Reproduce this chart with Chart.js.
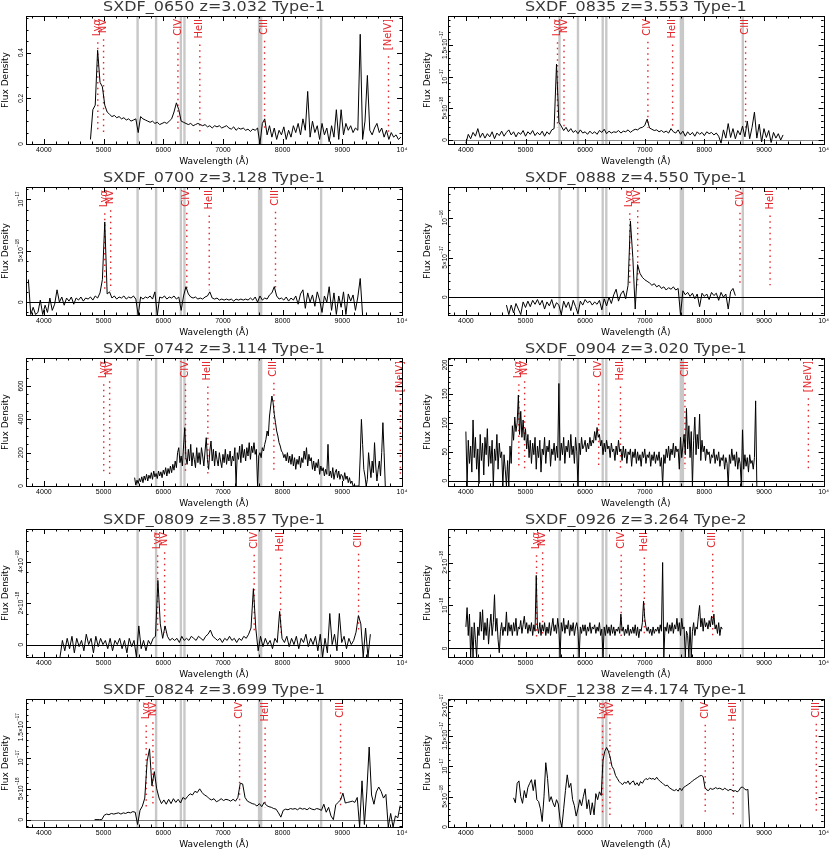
<!DOCTYPE html>
<html>
<head>
<meta charset="utf-8">
<title>SXDF spectra</title>
<script src="https://cdn.jsdelivr.net/npm/chart.js@4.4.1/dist/chart.umd.min.js"></script>
<style>
    body { margin: 0; background: #fff; width: 831px; height: 849px; position: relative; overflow: hidden; }
    canvas { position: absolute; }
</style>
</head>
<body>
<script>
// 1. Panel metadata (reading order: left to right, top to bottom)
const names = ['SXDF_0650', 'SXDF_0835', 'SXDF_0700', 'SXDF_0888', 'SXDF_0742', 'SXDF_0904', 'SXDF_0809', 'SXDF_0926', 'SXDF_0824', 'SXDF_1238'];
const redshifts = [3.032, 3.553, 3.128, 4.550, 3.114, 3.020, 3.857, 3.264, 3.699, 4.174];
const types = ['Type-1', 'Type-1', 'Type-1', 'Type-1', 'Type-1', 'Type-1', 'Type-1', 'Type-2', 'Type-1', 'Type-1'];
const waveStart = [4780, 4000, 3740, 4680, 5520, 4000, 4270, 4000, 4850, 4800];
const waveStep = [40, 40, 40, 40, 20, 20, 40, 20, 40, 30];
const yMins = [0, -0.63, -1.25, -2.25, 0, -9, -0.6, -0.2, -1.2, 0];
const yMaxs = [0.56, 19.6, 11.2, 13.9, 768, 212, 5.58, 2.78, 19.6, 21.1];
const yMinorSteps = [0.05, 1, 1, 1, 50, 10, 0.5, 0.2, 1, 1];
const zeroColors = [null, '#888', '#000', '#000', null, '#000', '#000', '#000', '#777', null];

// 2. Tick labels
const xTickValues = [4000, 5000, 6000, 7000, 8000, 9000, 10000];
const xTickLabels = ['4000', '5000', '6000', '7000', '8000', '9000', '10⁴'];
const yTickValues = [
    [0, 0.2, 0.4],
    [0, 5, 10, 15],
    [0, 5, 10],
    [0, 5, 10],
    [0, 200, 400, 600],
    [0, 50, 100, 150, 200],
    [0, 2, 4],
    [0, 1, 2],
    [0, 5, 10, 15],
    [0, 5, 10, 15, 20]
];
const yTickLabels = [
    ['0', '0.2', '0.4'],
    ['0', '5×10^−18', '10^−17', '1.5×10^−17'],
    ['0', '5×10^−18', '10^−17'],
    ['0', '5×10^−17', '10^−16'],
    ['0', '200', '400', '600'],
    ['0', '50', '100', '150', '200'],
    ['0', '2×10^−18', '4×10^−18'],
    ['0', '10^−18', '2×10^−18'],
    ['0', '5×10^−18', '10^−17', '1.5×10^−17'],
    ['0', '5×10^−18', '10^−17', '1.5×10^−17', '2×10^−17']
];

// 3. Emission lines (rest frame) and sky bands (observed)
const lineNames = ['Lyα', 'NV', 'CIV', 'HeII', 'CIII', '[NeIV]'];
const lineRest = [1216, 1240, 1549, 1640, 1909, 2424];
const skyBandLo = [5550, 5860, 6275, 6335, 7585, 8625];
const skyBandHi = [5590, 5900, 6315, 6375, 7660, 8665];

// 4. Spectra (flux per wavelength bin)
const flux0650 = [0.02, 0.15, 0.17, 0.41, 0.27, 0.25, 0.17, 0.14, 0.13, 0.12, 0.125, 0.115, 0.12, 0.11, 0.115, 0.105, 0.11, 0.10, 0.105, 0.11,
    0.05, 0.12, 0.11, 0.105, 0.10, 0.095, 0.10, 0.09, 0.095, 0.085, 0.09, 0.095, 0.09, 0.10, 0.11, 0.14, 0.18, 0.15, 0.10, 0.095,
    0.09, 0.085, 0.09, 0.08, 0.085, 0.09, 0.085, 0.08, 0.085, 0.075, 0.08, 0.07, 0.08, 0.075, 0.08, 0.07, 0.075, 0.08, 0.07, 0.065,
    0.075, 0.06, 0.07, 0.065, 0.07, 0.06, 0.065, 0.055, 0.065, 0.06, 0.07, 0.0, 0.09, 0.11, 0.04, 0.08, 0.03, 0.07, 0.02, 0.06,
    0.04, 0.075, 0.02, 0.06, 0.03, 0.08, 0.05, 0.09, 0.04, 0.11, 0.06, 0.23, 0.03, 0.10, 0.05, 0.08, 0.02, 0.09, 0.04, 0.07,
    0.01, 0.08, 0.03, 0.15, 0.02, 0.15, 0.04, 0.09, 0.06, 0.08, 0.05, 0.07, 0.06, 0.48, 0.02, 0.10, 0.30, 0.06, 0.04, 0.07,
    0.09, 0.05, 0.07, 0.03, 0.06, 0.02, 0.05, 0.03, 0.04, 0.02, 0.03];
const flux0835 = [-0.5, 0.9, 0.2, 1.2, 0.6, 1.8, 0.4, 1.1, 0.3, 1.0, 0.5, 1.3, 0.2, 1.1, 0.7, 1.4, 0.6, 1.2, 1.6, 0.8,
    1.3, 0.5, 1.2, 0.9, 1.5, 0.6, 1.3, 0.9, 1.5, 0.7, 1.2, 0.8, 1.4, 0.6, 1.3, 0.9, 1.6, 1.8, 12, 2.8,
    2.2, 1.5, 2.0, 1.3, 1.8, 1.2, 1.5, 1.0, 1.6, 1.1, 1.3, 0.9, 1.4, 1.0, 1.3, 0.9, 1.5, 1.2, 1.7, 1.0,
    1.4, 1.1, 1.3, 1.2, 1.5, 1.1, 1.4, 1.3, 1.6, 1.2, 1.5, 1.7, 1.6, 1.9, 2.0, 2.3, 3.3, 1.9, 1.7, 1.5,
    1.6, 1.3, 1.5, 1.2, 1.4, 1.1, 1.8, 1.3, 1.1, 1.6, 0.9, 1.4, 0.6, 1.3, 0.8, 1.2, 0.6, 1.3, 0.9, 1.2,
    0.7, 1.3, 1.0, 1.2, 0.8, 1.1, 0.6, -0.5, 1.6, 0.3, 2.6, 0.4, 1.8, 0.2, 1.5, 0.8, 2.2, 0.5, 3.0, 0.2,
    2.0, 4.4, 0.3, 2.5, -0.3, 1.8, 0.4, 1.5, -0.4, 1.2, 0.3, 1.0, 0.0, 0.8];
const flux0700 = [2.2, -1.2, -0.5, -1.2, -1.0, 0.2, -1.2, -0.3, -1.0, 0.4, -0.8, -0.2, 1.2, 0.0, 0.5, -0.3, 0.4, 0.1, 0.5, -0.2,
    0.4, 0.2, 0.5, 0.1, 0.4, 0.3, 0.5, 0.2, 0.6, 0.4, 0.9, 2.2, 7.8, 0.8, 1.0, 0.4, 0.6, 0.3, 0.5, 0.4,
    0.6, 0.3, 0.5, 0.4, 0.6, 0.3, -1.3, 0.5, 0.3, 0.5, 0.4, 0.6, 0.3, 1.0, -1.3, 0.5, 0.4, 0.6, 0.3, 0.5,
    0.4, 0.6, 0.3, 0.5, -0.8, 0.6, 1.5, 0.8, 0.5, 0.4, 0.5, 0.3, 0.4, 0.3, 0.5, 0.6, 1.0, 0.4, 0.3, 0.4,
    0.2, 0.3, 0.2, 0.3, 0.2, 0.3, 0.1, 0.3, 0.2, 0.3, 0.2, 0.3, 0.2, 0.4, 0.2, 0.5, 0.0, 0.6, 0.2, 0.4,
    0.3, 0.7, 0.9, 1.5, 0.6, 0.3, 0.4, 0.2, 0.5, 0.1, 0.4, 0.2, 0.6, -0.2, 0.8, 1.2, -0.6, 0.9, 0.0, 0.7,
    -0.4, 1.0, 0.2, -1.0, 0.6, 0.0, 1.5, -0.8, 0.9, -1.2, 0.6, -0.5, 1.0, -1.2, 0.8, 0.1, 0.7, -0.8, 0.5, 2.3,
    -1.3];
const flux0888 = [-1.0, -2.2, -1.0, -2.0, -0.8, -1.5, -2.2, -0.6, -1.3, -0.5, -1.2, -0.4, -0.9, -0.3, -1.0, -0.4, -1.5, -0.6, -1.1, -0.3,
    -1.4, -0.7, -1.0, -2.2, -0.5, -1.3, -0.6, -1.7, -0.4, -1.2, -2.1, -0.5, -1.0, -0.3, -0.7, -0.5, -1.0, -0.6, -0.9, -0.4,
    -1.6, -0.2, -1.1, 0.0, -0.8, 0.3, 1.0, -0.5, 0.4, 0.8, -0.2, 1.5, 9.6, 5.0, -1.5, 4.1, 3.0, 2.5, 2.2, 2.0,
    1.8, 1.5, 1.7, 1.3, 1.5, 1.1, 1.3, 0.9, 1.2, 1.0, 1.3, 0.9, 1.1, -2.2, 0.8, 0.3, 0.6, 0.1, 0.5, -0.2,
    0.4, -1.2, 0.5, 0.1, 0.4, -0.3, 0.6, 0.2, 0.5, -0.4, 0.6, 0.0, 0.4, -1.5, 0.7, 1.1, 0.2];
const flux0742 = [50, 5, 35, 15, 45, 25, 55, 20, 60, 35,
    70, 30, 65, 45, 80, 40, 90, 55, 75, 45,
    90, 60, 85, 50, 95, 70, 110, 60, 105, 75,
    120, 80, 130, 95, 150, 110, 200, 230, 140, 180,
    120, 240, 350, 170, 130, 220, 150, 250, 120, 200,
    160, 110, 230, 140, 200, 130, 230, 180, 120, 210,
    290, 160, 100, 210, 270, 150, 220, 120, 210, 160,
    120, 200, 150, 110, 190, 140, 220, 130, 190, 150,
    210, 120, 180, 150, 230, 0, 200, 160, 240, 140,
    250, 170, 220, 150, 230, 180, 260, 160, 240, 200,
    260, 190, 220, 0, 180, 200, 170, 230, 210, 250,
    280, 330, 300, 420, 480, 540, 500, 430, 380, 330,
    300, 260, 240, 210, 200, 170, 190, 150, 200, 140,
    180, 130, 190, 120, 170, 100, 160, 130, 180, 110,
    170, 140, 210, 160, 230, 120, 190, 150, 170, 100,
    150, 90, 140, 110, 160, 70, 120, 90, 110, 60,
    100, 70, 250, 60, 90, 50, 110, 40, 80, 100,
    50, 90, 40, 70, 60, 30, 80, 40, 60, 20,
    50, 15, 30, 0, 0, 0, 0, 0, 0, 180,
    400, 250, 100, 60, 0, 40, 200, 120, 50, 150,
    80, 260, 120, 30, 100, 150, 60, 200, 380, 200,
    0];
const flux0904 = [85, -9, 70, 30, 60, 15, 105, 40, 75, 20,
    55, -5, 80, 35, 65, 10, 75, 45, 90, 25,
    60, 30, 70, -9, 55, 35, 80, 20, 65, 40,
    50, -9, 45, 20, -9, 35, -9, 60, 30, 95,
    70, 110, 85, 100, 148, 80, 120, 75, 105, 70,
    90, 55, 80, 40, 70, 30, 65, 45, 75, 20,
    60, 40, 70, 15, 55, 45, 75, 30, 60, 50,
    70, 25, 55, 45, 65, 35, 60, 40, 168, 35,
    65, 45, 75, 30, 60, 50, 70, 40, 80, 45,
    60, 30, 75, 50, -9, 65, 45, 75, 55, 60,
    70, 50, 65, 55, 75, 60, 70, 65, 85, 70,
    92, 75, 80, 60, 70, 45, 65, 50, 70, 55,
    60, 40, 65, 50, 55, 35, 60, 45, 70, 50,
    55, 35, 60, 40, 55, 30, 50, 45, 55, 25,
    50, 40, 55, 30, 50, 35, 45, 25, 50, 40,
    55, 30, 45, 40, 50, 25, 45, 35, 50, 30,
    45, 35, 50, 25, 40, -9, 45, 30, 55, 40,
    60, 35, 55, 45, 65, 40, 60, 50, 55, 20,
    75, 40, 60, 80, 45, 125, 55, 95, 40, 85,
    -9, 70, 110, 45, 80, 55, 115, 35, 70, 50,
    60, 35, 55, 45, 50, 30, 45, 40, 55, 30,
    45, 35, 50, 25, 40, 35, 45, 20, 40, 30,
    -9, 45, 30, 55, 35, 45, 25, 50, 20, 40,
    30, -9, 88, 20, 45, 25, 40, 15, 45, 30,
    35, 20, 40, 138, -9];
const flux0809 = [-0.6, 0.2, -0.3, 0.3, -0.2, 0.4, -0.4, 0.3, -0.1, 0.2, -0.3, 0.5, 0.0, 0.3, -0.4, 0.4, -0.1, 0.3, 0.0, 0.2,
    -0.2, 0.3, -0.3, 0.2, 0.0, 0.3, -0.2, 0.2, -0.4, 0.3, -0.1, 0.2, -0.6, 0.9, -0.2, 0.2, -0.3, 0.2, 0.0, 0.3,
    0.4, 3.1, 1.0, 0.3, 0.9, 0.4, 0.2, 0.3, 0.2, 0.3, 0.1, 0.4, 0.2, 0.3, 0.2, 0.4, 0.3, 0.2, 0.4, 0.3,
    0.2, 0.4, 0.5, 0.7, 0.4, 0.3, 0.2, 0.3, 0.1, 0.3, 0.2, 0.4, 0.2, 0.3, 0.1, 0.3, 0.2, 0.4, 0.3, 0.5,
    0.8, 2.7, 0.8, -0.3, 0.4, -0.1, 0.3, 0.0, 0.2, -0.2, 0.3, 0.1, 1.6, 0.3, 0.1, 0.4, -0.1, 0.3, 0.0, 0.4,
    -0.2, 0.3, 0.1, 0.5, -0.1, 0.3, 0.0, 0.4, -0.3, 0.5, -0.6, 0.3, -0.4, 1.5, 0.0, 0.5, -0.3, 1.5, 0.1, 0.4,
    -0.2, 0.3, 0.0, 0.2, 0.6, 1.4, 1.0, -0.6, 0.8, -0.6, 0.5];
const flux0926 = [0.5, 0.95, 0.3, 0.8, -0.2, 0.5, -0.2, 0.6, 0.2, -0.2,
    0.5, 0.3, 0.85, 0.4, 0.9, 0.2, 0.6, 0.3, 0.7, 0.1,
    0.5, 0.8, 0.3, 0.6, 1.25, 0.4, 0.7, 0.2, -0.1, 0.4,
    0.6, 0.3, 0.5, 0.4, 0.85, 0.3, 0.6, 0.4, 0.55, 0.3,
    0.6, 0.4, 0.7, 0.3, 0.5, 0.45, 0.65, 0.35, 0.55, 0.75,
    0.45, 0.6, 0.35, 0.55, 0.4, 0.6, 0.3, 0.55, 0.4, 1.7,
    0.5, 0.35, 0.6, 0.3, 0.55, 0.4, 0.6, 0.3, 0.5, 0.35,
    0.6, 0.3, 0.5, 0.7, 0.4, 0.55, 0.35, 0.7, 0.45, -0.2,
    0.6, 0.4, 0.7, 0.35, 0.55, 0.45, 0.65, 0.3, 0.55, 0.4,
    0.6, 0.3, 0.5, 0.6, 0.4, -0.2, 0.5, 0.35, 0.55, 0.4,
    0.55, 0.3, 0.5, 0.4, 0.6, 0.35, 0.5, 0.45, 0.55, 0.35,
    0.5, 0.4, 0.6, 0.3, 0.45, -0.2, 0.5, 0.3, 0.55, 0.35,
    0.5, 0.3, 0.55, 0.35, 0.5, 0.3, 0.45, 0.4, 0.5, 0.35,
    0.8, 0.4, 0.5, 0.3, 0.45, 0.35, 0.55, 0.3, 0.45, 0.35,
    0.5, 0.35, 0.55, 0.3, 0.5, 0.25, 0.45, 0.4, 0.6, 1.1,
    0.7, 0.5, 0.4, 0.5, 0.35, 0.45, 0.3, 0.5, 0.35, 0.45,
    0.4, 0.5, 0.35, 0.55, 0.4, 2.0, -0.2, 0.5, 0.4, 0.6,
    0.35, 0.55, 0.4, 0.6, 0.35, 0.55, 0.45, 0.7, 0.4, 0.6,
    0.3, 0.7, 0.45, 0.5, -0.2, 0.4, 0.3, -0.2, 0.5, -0.2,
    0.4, 0.6, 0.3, 0.5, 0.45, 0.75, 1.0, 0.5, 0.7, 0.4,
    0.7, 0.5, 0.6, 0.45, 0.65, 0.5, 0.75, 0.55, 0.8, 0.45,
    0.55, 0.35, 0.6, 0.3, 0.5, 0.45];
const flux0824 = [0.0, 0.0, 0.0, 0.0, 0.7, 0.9, 0.8, 1.0, 0.9, 1.0, 1.1, 0.9, 1.1, 1.0, 1.2, 1.1, 1.3, 1.2, -0.8, 1.5,
    2.2, 3.5, 9.5, 11.5, 5.5, 7.8, 5.0, 3.5, 2.6, 3.2, 2.5, 3.3, 2.6, 3.4, 2.8, 3.3, 2.7, 3.6, 3.3, 3.8,
    4.2, 4.0, 4.6, 4.4, 5.0, 4.4, 4.0, 3.8, 3.4, 3.2, 3.4, 2.9, 3.1, 3.4, 3.1, 3.3, 3.2, 3.0, 3.3, 3.0,
    3.6, 5.9, 5.8, 3.6, 3.0, 2.8, 2.6, 2.5, 2.2, 2.6, 2.1, 2.8, 2.3, 2.1, 2.0, 1.8, 1.7, 1.1, 0.4, 1.5,
    1.7, 1.6, 1.8, 1.7, 1.8, 1.6, 1.9, 1.7, 1.8, 1.6, 1.9, 1.7, 1.6, 1.8, 1.7, 1.5, 2.5, 1.2, 2.0, 0.6,
    0.0, 2.4, 2.8, 3.2, 4.3, 2.7, 2.8, 2.9, 3.0, 2.8, 3.6, -1.2, 6.3, -0.8, 4.5, 11.8, 4.0, 2.5, 4.5, 5.3,
    4.6, 3.5, 4.1, -1.2, 1.0, -1.2, 0.6, 0.3, 2.3];
const flux1238 = [4.8, 4.0, 7.2, 7.6, 5.0, 3.9, 6.0, 4.8, 6.5, 7.2, 7.8, 6.0, 7.8, 4.5, 4.2, 3.0, 0.9, 5.0, 10.6, 8.0,
    4.2, 5.0, 4.0, 3.3, 4.5, 3.8, 1.2, 0.0, 3.0, 6.0, 8.6, 6.5, 7.2, 4.5, 3.5, 1.8, 3.0, 4.5, 3.5, 5.0,
    6.3, 3.0, 4.5, 2.0, 4.0, 2.0, 5.5, 4.5, 5.8, 5.2, 11.0, 12.5, 13.1, 12.5, 11.5, 10.0, 9.5, 8.5, 8.0, 7.5,
    7.2, 7.0, 7.4, 7.2, 7.6, 7.0, 7.4, 7.6, 6.9, 7.3, 6.8, 7.5, 7.2, 7.7, 8.0, 7.8, 8.1, 7.9, 8.0, 7.8,
    8.2, 7.8, 7.5, 7.3, 7.0, 6.8, 6.9, 6.5, 6.3, 6.1, 6.0, 6.2, 5.9, 6.4, 6.0, 6.5, 6.7, 6.9, 7.1, 7.3,
    7.6, 7.8, 8.0, 8.2, 8.4, 8.5, 8.3, 6.5, 6.1, 6.0, 6.4, 6.2, 6.3, 6.5, 6.3, 6.4, 6.3, 6.1, 6.4, 6.2,
    6.0, 6.2, 6.1, 5.9, 6.0, 5.8, 6.0, 6.5, 6.6, 6.3, 6.1, 6.2, 0.0];
const fluxes = [flux0650, flux0835, flux0700, flux0888, flux0742, flux0904, flux0809, flux0926, flux0824, flux1238];

// 5. Layout
const rowTops = [0, 171, 342, 513, 683];
const RED = '#e3262b';

// Rotated y tick label with a small raised exponent ("5×10^−18")
function drawYLabel(ctx, label, bx, cy) {
    const [base, exp] = label.split('^');
    ctx.font = '6.5px "Liberation Sans"';
    const wb = ctx.measureText(base).width;
    ctx.font = '4.5px "Liberation Sans"';
    const we = exp ? ctx.measureText(exp).width : 0;
    const start = -(wb + we) / 2;
    ctx.save();
    ctx.translate(bx, cy);
    ctx.rotate(-Math.PI / 2);
    ctx.textAlign = 'left';
    ctx.textBaseline = 'alphabetic';
    ctx.font = '6.5px "Liberation Sans"';
    ctx.fillText(base, start, 0);
    if (exp) {
        ctx.font = '4.5px "Liberation Sans"';
        ctx.fillText(exp, start + wb + 0.3, -3.6);
    }
    ctx.restore();
}

// Sky bands, zero line, emission line markers, frame, inward ticks and title
const specDeco = {
    id: 'specDeco',
    beforeDatasetsDraw(chart, args, o) {
        const { ctx, chartArea: a, scales: { x, y } } = chart;
        ctx.save();
        ctx.beginPath();
        ctx.rect(a.left, a.top, a.right - a.left, a.bottom - a.top);
        ctx.clip();

        ctx.fillStyle = '#c8c8c8';
        skyBandLo.forEach((lo, i) => {
            const x0 = x.getPixelForValue(lo);
            const x1 = x.getPixelForValue(skyBandHi[i]);
            ctx.fillRect(x0, a.top, x1 - x0, a.bottom - a.top);
        });

        if (o.zeroColor) {
            const py = Math.round(y.getPixelForValue(0)) + 0.5;
            ctx.strokeStyle = o.zeroColor;
            ctx.lineWidth = 1;
            ctx.beginPath();
            ctx.moveTo(a.left, py);
            ctx.lineTo(a.right, py);
            ctx.stroke();
        }

        // dotted markers
        ctx.font = '10px "DejaVu Sans"';
        ctx.strokeStyle = RED;
        ctx.lineWidth = 1.4;
        ctx.setLineDash([1.5, 4.2]);
        const yEnd = Math.min(y.getPixelForValue(0), a.bottom) - 12;
        lineRest.forEach((rest, i) => {
            const lam = rest * (1 + o.z);
            if (lam < 3700 || lam > 10000) return;
            const px = x.getPixelForValue(lam);
            const w = ctx.measureText(lineNames[i]).width;
            ctx.beginPath();
            ctx.moveTo(px, a.top + w + 9);
            ctx.lineTo(px, yEnd);
            ctx.stroke();
        });
        ctx.restore();

        // labels (not clipped, [NeIV] can sit on the right edge)
        ctx.save();
        ctx.font = '10px "DejaVu Sans"';
        ctx.fillStyle = RED;
        lineRest.forEach((rest, i) => {
            const lam = rest * (1 + o.z);
            if (lam < 3700 || lam > 10000) return;
            const px = x.getPixelForValue(lam);
            ctx.save();
            ctx.translate(px, a.top + 3);
            ctx.rotate(-Math.PI / 2);
            ctx.textAlign = 'right';
            ctx.textBaseline = 'middle';
            ctx.fillText(lineNames[i], 0, 0);
            ctx.restore();
        });
        ctx.restore();
    },
    afterDatasetsDraw(chart, args, o) {
        const { ctx, chartArea: a, scales: { x, y } } = chart;
        ctx.save();
        ctx.strokeStyle = '#000';
        ctx.lineWidth = 1;
        ctx.strokeRect(Math.round(a.left) + 0.5, Math.round(a.top) + 0.5,
            Math.round(a.right - a.left), Math.round(a.bottom - a.top));

        ctx.beginPath();
        for (let v = 3800; v < 10000; v += 200) {
            const px = Math.round(x.getPixelForValue(v)) + 0.5;
            const len = v % 1000 === 0 ? 5 : 2.5;
            ctx.moveTo(px, a.bottom); ctx.lineTo(px, a.bottom - len);
            ctx.moveTo(px, a.top); ctx.lineTo(px, a.top + len);
        }
        const ticks = yTickValues[o.idx];
        const step = yMinorSteps[o.idx];
        for (let k = Math.ceil(o.yMin / step); k * step < o.yMax; k++) {
            const v = k * step;
            const py = Math.round(y.getPixelForValue(v)) + 0.5;
            const major = ticks.some(t => Math.abs(t - v) < step / 10);
            const len = major ? 5 : 2.5;
            ctx.moveTo(a.left, py); ctx.lineTo(a.left + len, py);
            ctx.moveTo(a.right, py); ctx.lineTo(a.right - len, py);
        }
        ctx.stroke();

        ctx.fillStyle = '#000';
        ticks.forEach((t, k) => {
            drawYLabel(ctx, yTickLabels[o.idx][k], a.left - o.labelGap, y.getPixelForValue(t));
        });

        // panel title, centred over the plot area (slightly squat, like the plotting font)
        ctx.fillStyle = '#383838';
        ctx.font = '16px "DejaVu Sans"';
        ctx.textAlign = 'center';
        ctx.textBaseline = 'alphabetic';
        ctx.translate((a.left + a.right) / 2, a.top - 5.2);
        ctx.scale(1, 0.88);
        ctx.fillText(o.title, 0, 0);
        ctx.restore();
    }
};

// 6. Build the ten panels
function buildPanel(i) {
    const col = i % 2;
    const row = Math.floor(i / 2);
    const canvas = document.createElement('canvas');
    const w = col ? 416 : 415;
    canvas.width = w;
    canvas.height = 171;
    canvas.style.left = (col ? 415 : 0) + 'px';
    canvas.style.top = rowTops[row] + 'px';
    canvas.style.width = w + 'px';
    canvas.style.height = '171px';
    document.body.appendChild(canvas);

    const points = fluxes[i].map((f, k) => ({ x: waveStart[i] + k * waveStep[i], y: f }));

    new Chart(canvas, {
        type: 'line',
        data: {
            datasets: [{
                data: points,
                borderColor: '#000',
                borderWidth: 1,
                pointRadius: 0,
                tension: 0,
                fill: false
            }]
        },
        options: {
            responsive: false,
            animation: false,
            devicePixelRatio: 1,
            layout: { padding: { left: 0, right: col ? 7 : 13, top: 16, bottom: 0 } },
            plugins: {
                legend: { display: false },
                tooltip: { enabled: false },
                title: { display: false },
                specDeco: {
                    idx: i,
                    z: redshifts[i],
                    yMin: yMins[i],
                    yMax: yMaxs[i],
                    zeroColor: zeroColors[i],
                    labelGap: col ? 1.5 : 3.5,
                    title: `${names[i]} z=${redshifts[i].toFixed(3)} ${types[i]}`
                }
            },
            scales: {
                x: {
                    type: 'linear',
                    min: 3700,
                    max: 10000,
                    grid: { display: false, drawTicks: false },
                    border: { display: false },
                    afterBuildTicks: s => { s.ticks = xTickValues.map(v => ({ value: v })); },
                    afterFit: s => { s.height = 27; },
                    ticks: {
                        autoSkip: false,
                        maxRotation: 0,
                        padding: 2,
                        color: '#000',
                        font: { family: 'Liberation Sans', size: 7 },
                        callback: v => xTickLabels[xTickValues.indexOf(v)]
                    },
                    title: {
                        display: true,
                        text: 'Wavelength (Å)',
                        color: '#000',
                        font: { family: 'DejaVu Sans', size: 9, lineHeight: 1.2 },
                        padding: { top: 0, bottom: 4 }
                    }
                },
                y: {
                    type: 'linear',
                    min: yMins[i],
                    max: yMaxs[i],
                    grid: { display: false, drawTicks: false },
                    border: { display: false },
                    ticks: { display: false },
                    afterFit: s => { s.width = col ? 33 : 26; },
                    title: {
                        display: true,
                        text: 'Flux Density',
                        color: '#000',
                        font: { family: 'DejaVu Sans', size: 9, lineHeight: 1.2 },
                        padding: { top: col ? 7 : 0, bottom: 0 }
                    }
                }
            }
        },
        plugins: [specDeco]
    });
}

names.forEach((n, i) => buildPanel(i));
</script>
</body>
</html>
